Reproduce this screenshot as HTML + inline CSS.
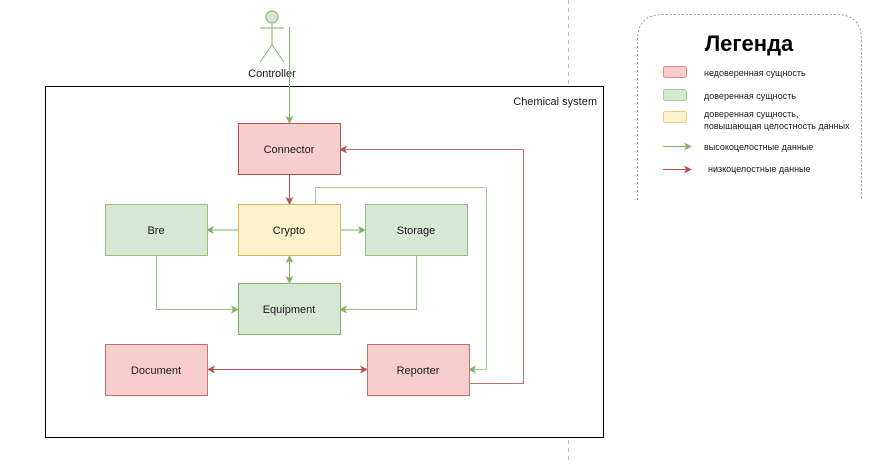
<!DOCTYPE html>
<html><head><meta charset="utf-8"><style>
body{margin:0;background:#fff;width:875px;height:460px;overflow:hidden}
text{font-family:"Liberation Sans","Noto Sans CJK SC",sans-serif;font-size:11px;fill:#1a1a1a}
</style></head><body>
<svg width="875" height="460" viewBox="0 0 875 460" xmlns="http://www.w3.org/2000/svg">
<defs>
<marker id="g" markerWidth="8" markerHeight="8" refX="7" refY="4" orient="auto" markerUnits="userSpaceOnUse"><path d="M0,0 L8,4 L0,8 L2,4z" fill="#82b366"/></marker>
<marker id="gs" markerWidth="8" markerHeight="8" refX="1" refY="4" orient="auto" markerUnits="userSpaceOnUse"><path d="M8,0 L0,4 L8,8 L6,4z" fill="#82b366"/></marker>
<marker id="r" markerWidth="8" markerHeight="8" refX="7" refY="4" orient="auto" markerUnits="userSpaceOnUse"><path d="M0,0 L8,4 L0,8 L2,4z" fill="#b85450"/></marker>
<marker id="rs" markerWidth="8" markerHeight="8" refX="1" refY="4" orient="auto" markerUnits="userSpaceOnUse"><path d="M8,0 L0,4 L8,8 L6,4z" fill="#b85450"/></marker>
</defs>
<line x1="568.5" y1="0" x2="568.5" y2="460" stroke="#bbb" stroke-dasharray="4,4"/>
<rect x="45.5" y="86.5" width="558" height="351" fill="#fff" stroke="#000"/>
<text x="597" y="105" text-anchor="end">Chemical system</text>
<!-- actor -->
<g stroke="#82b366" fill="none" stroke-width="1">
<circle cx="272" cy="17" r="6" fill="#d5e8d4"/>
<line x1="272" y1="23" x2="272" y2="45"/>
<line x1="260" y1="28" x2="284" y2="28"/>
<line x1="272" y1="45" x2="260" y2="62"/>
<line x1="272" y1="45" x2="284" y2="62"/>
</g>
<text x="272" y="77" text-anchor="middle">Controller</text>
<!-- connectors -->
<g fill="none" stroke-width="1">
<path d="M289.5 27 V123" stroke="#82b366" marker-end="url(#g)"/>
<path d="M289.5 174 V204" stroke="#b85450" marker-end="url(#r)"/>
<path d="M238 230 H207" stroke="#82b366" marker-end="url(#g)"/>
<path d="M340 230 H365" stroke="#82b366" marker-end="url(#g)"/>
<path d="M289.5 256 V283" stroke="#82b366" marker-start="url(#gs)" marker-end="url(#g)"/>
<path d="M156.5 255 V309.5 H238" stroke="#97c17f" marker-end="url(#g)"/>
<path d="M416.5 255 V309.5 H340" stroke="#97c17f" marker-end="url(#g)"/>
<path d="M315.5 204 V187.5 H486.5 V369.5 H469" stroke="#a9cf94" marker-end="url(#g)"/>
<path d="M469 383.5 H523.5 V149.5 H340" stroke="#c0716c" marker-end="url(#r)"/>
<path d="M208 369.5 H367" stroke="#b85450" marker-start="url(#rs)" marker-end="url(#r)"/>
</g>
<!-- boxes -->
<g stroke-width="1">
<rect x="238.5" y="123.5" width="102" height="51" fill="#f8cecc" stroke="#b85450"/>
<rect x="105.5" y="204.5" width="102" height="51" fill="#d5e8d4" stroke="#97c17f"/>
<rect x="238.5" y="204.5" width="102" height="51" fill="#fff2cc" stroke="#d6b656"/>
<rect x="365.5" y="204.5" width="102" height="51" fill="#d5e8d4" stroke="#97c17f"/>
<rect x="238.5" y="283.5" width="102" height="51" fill="#d5e8d4" stroke="#82b366"/>
<rect x="105.5" y="344.5" width="102" height="51" fill="#f8cecc" stroke="#c0716c"/>
<rect x="367.5" y="344.5" width="102" height="51" fill="#f8cecc" stroke="#c0716c"/>
</g>
<text x="289" y="153" text-anchor="middle">Connector</text>
<text x="156" y="234" text-anchor="middle">Bre</text>
<text x="289" y="234" text-anchor="middle">Crypto</text>
<text x="416" y="234" text-anchor="middle">Storage</text>
<text x="289" y="313" text-anchor="middle">Equipment</text>
<text x="156" y="374" text-anchor="middle">Document</text>
<text x="418" y="374" text-anchor="middle">Reporter</text>
<!-- legend -->
<path d="M637.5 200 V40 Q637.5 14.5 663 14.5 H836 Q861.5 14.5 861.5 40 V200" fill="none" stroke="#999" stroke-dasharray="2,2"/>
<text x="749" y="51" text-anchor="middle" style="font-size:22px;font-weight:bold;fill:#000">Легенда</text>
<rect x="663.5" y="66.5" width="23" height="11" rx="2" fill="#f8cecc" stroke="#e08c88"/>
<rect x="663.5" y="89.5" width="23" height="11" rx="2" fill="#d5e8d4" stroke="#a9cf94"/>
<rect x="663.5" y="111.5" width="23" height="11" rx="2" fill="#fff2cc" stroke="#e6cf85"/>
<g style="font-size:9px"><text x="704" y="76" style="font-size:9px">недоверенная сущность</text>
<text x="704" y="99" style="font-size:9px">доверенная сущность</text>
<text x="704" y="117" style="font-size:9px">доверенная сущность,</text>
<text x="704" y="129" style="font-size:9px">повышающая целостность данных</text>
<text x="704" y="150" style="font-size:9px">высокоцелостные данные</text>
<text x="708" y="172" style="font-size:9px">низкоцелостные данные</text></g>
<path d="M663 146.5 H691" stroke="#82b366" marker-end="url(#g)"/>
<path d="M663 169.5 H691" stroke="#b85450" marker-end="url(#r)"/>
</svg>
</body></html>
